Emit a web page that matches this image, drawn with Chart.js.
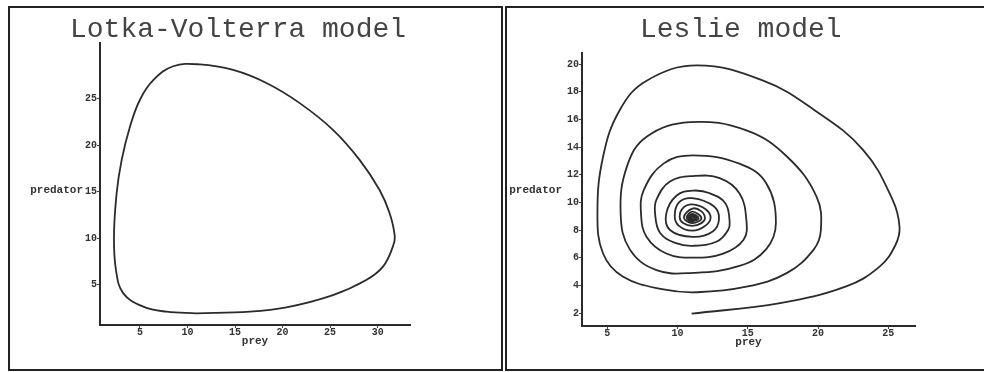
<!DOCTYPE html>
<html>
<head>
<meta charset="utf-8">
<title>Predator-prey phase portraits</title>
<script src="https://cdn.jsdelivr.net/npm/chart.js@4/dist/chart.umd.min.js"></script>
<style>
  body { margin: 0; background: #fff; }
  #wrap { position: relative; width: 984px; height: 372px; overflow: hidden; }
  .frame { position: absolute; border: 2px solid #222; box-sizing: border-box; }
  canvas { position: absolute; top: 0; }
</style>
</head>
<body>
<div id="wrap">
  <div class="frame" style="left:8px;top:6px;width:495px;height:365px"></div>
  <div class="frame" style="left:505px;top:6px;width:500px;height:365px"></div>
  <canvas id="lv" width="500" height="372" style="left:0"></canvas>
  <canvas id="leslie" width="484" height="372" style="left:500px"></canvas>
</div>
<script>
// --- DATA ---

// Lotka-Volterra closed orbit, traced counter-clockwise from the bottom
const lvPrey = [10.96, 16.55, 20.4, 25.3, 28.8, 30.56, 31.6, 31.8, 31.26, 30.2, 28.1, 25.3, 21.8, 18.3,
  14.8, 11.3, 8.5, 6.4, 5.0, 3.95, 3.08, 2.55, 2.27, 2.48, 3.25, 5.35, 7.8, 10.96];
const lvPredator = [1.95, 2.13, 2.6, 3.92, 5.54, 6.97, 9.12, 10.2, 12.7, 15.2, 18.44, 21.67, 24.54, 26.7,
  28.1, 28.7, 28.5, 27.0, 24.9, 22.0, 18.44, 14.86, 10.2, 6.6, 4.1, 2.67, 2.13, 1.95];
const lvPreyTicks = [5, 10, 15, 20, 25, 30];
const lvPredatorTicks = [5, 10, 15, 20, 25];

// Leslie model trajectory spiralling in to the equilibrium
const lesliePrey = [
  11.0, 17.3, 22.0, 24.4, 25.5, 25.8, 25.3, 23.2, 19.7, 16.1, 11.4, 7.8, 5.9, 4.7, 4.3, 4.7, 6.1, 9.0,
  11.4, 14.9, 17.8, 19.7, 20.2, 19.9, 17.8, 14.9, 10.9, 7.8, 6.4, 5.95, 6.6, 8.5,
  11.1, 14.4, 16.3, 17.0, 16.3, 14.4, 11.1, 9.0, 7.6, 7.4, 7.8, 9.2,
  11.1, 13.25, 14.7, 14.9, 14.4, 13.0, 11.1, 9.46, 8.5, 8.4, 8.75, 9.9,
  11.1, 12.8, 13.6, 13.7, 13.4, 12.3, 11.1, 9.94, 9.2, 9.46,
  11.1, 12.5, 12.95, 12.6, 11.05, 10.1, 9.8, 10.1,
  11.05, 11.9, 12.35, 12.0, 11.05, 10.4, 10.15, 10.4,
  11.05, 11.7, 11.95, 11.7, 11.05, 10.45,
  11.05, 11.7, 11.05, 10.65, 11.05, 11.5, 11.05, 10.78, 11.05, 11.35, 11.05, 10.87,
  11.05, 11.25, 11.05, 10.95, 11.05, 11.12
];
const lesliePredator = [
  1.95, 2.72, 3.92, 5.37, 6.9, 8.2, 10.2, 13.8, 16.7, 18.8, 19.9, 18.8, 16.7, 13.3, 9.2, 6.3, 4.64, 3.7,
  3.5, 3.9, 4.9, 6.6, 8.0, 10.4, 13.3, 15.2, 15.8, 14.75, 12.6, 9.2, 6.6, 5.1,
  4.9, 5.4, 6.6, 8.5, 11.4, 12.8, 13.4, 12.8, 10.9, 9.2, 7.5, 6.3,
  6.0, 6.3, 7.3, 8.7, 10.66, 11.75, 11.9, 11.5, 10.2, 9.2, 7.8, 7.05,
  6.86, 7.17, 8.0, 8.7, 9.94, 10.66, 10.85, 10.5, 9.2, 8.0,
  7.5, 7.9, 8.8, 9.7, 10.3, 10.0, 9.0, 8.3,
  7.95, 8.25, 8.85, 9.5, 9.85, 9.6, 8.95, 8.5,
  8.3, 8.5, 8.85, 9.35, 9.55, 8.9,
  8.5, 8.86, 9.33, 8.88, 8.63, 8.86, 9.17, 8.87, 8.72, 8.86, 9.05, 8.86,
  8.78, 8.86, 8.97, 8.86, 8.82, 8.86
];
const lesliePreyTicks = [5, 10, 15, 20, 25];
const lesliePredatorTicks = [2, 4, 6, 8, 10, 12, 14, 16, 18, 20];

// --- DRAWING ---

const INK = "#2b2b2b";
const tickFont = { family: "Liberation Mono", size: 10, weight: "bold" };

const panelText = {
  id: "panelText",
  afterDraw(chart, args, opts) {
    const ctx = chart.ctx;
    ctx.save();
    ctx.fillStyle = "#444";
    ctx.textBaseline = "alphabetic";
    ctx.textAlign = "left";
    ctx.font = '28px "Liberation Mono"';
    ctx.fillText(opts.title, opts.titleX, 37);
    ctx.fillStyle = "#333";
    ctx.font = 'bold 11px "Liberation Mono"';
    ctx.textAlign = "right";
    ctx.textBaseline = "middle";
    ctx.fillText("predator", opts.labelX, 190);
    ctx.restore();
  },
};

function axis(min, max, ticks, fit) {
  return {
    type: "linear",
    min: min,
    max: max,
    afterBuildTicks: (s) => { s.ticks = ticks.map((v) => ({ value: v })); },
    afterFit: fit,
    grid: { drawOnChartArea: false, drawTicks: true, tickLength: 3, tickColor: "#444" },
    border: { display: true, color: INK, width: 2 },
    ticks: { padding: 0, color: "#333", font: tickFont, maxRotation: 0, autoSkip: false },
  };
}

function phaseChart(id, xs, ys, o) {
  const points = xs.map((x, i) => ({ x: x, y: ys[i] }));
  const xAxis = axis(o.xMin, o.xMax, o.xTicks, (s) => { s.height = 23; });
  xAxis.ticks.padding = -2;
  xAxis.title = {
    display: true, text: "prey", color: "#333",
    font: { family: "Liberation Mono", size: 11, weight: "bold" },
    padding: { top: 0, bottom: 0 },
  };
  const yAxis = axis(o.yMin, o.yMax, o.yTicks, (s) => { s.width = o.yWidth; });

  return new Chart(document.getElementById(id), {
    type: "scatter",
    data: {
      datasets: [{
        data: points,
        showLine: true,
        tension: 0.4,
        borderColor: INK,
        borderWidth: 1.8,
        pointRadius: 0,
        fill: false,
      }],
    },
    options: {
      responsive: false,
      animation: false,
      events: [],
      layout: { padding: o.padding },
      scales: { x: xAxis, y: yAxis },
      plugins: {
        legend: { display: false },
        tooltip: { enabled: false },
        panelText: { title: o.title, titleX: o.titleX, labelX: o.labelX },
      },
    },
    plugins: [panelText],
  });
}

phaseChart("lv", lvPrey, lvPredator, {
  title: "Lotka-Volterra model", titleX: 70, labelX: 83,
  xMin: 0.8, xMax: 33.4, xTicks: lvPreyTicks,
  yMin: 0.7, yMax: 31, yTicks: lvPredatorTicks,
  yWidth: 100,
  padding: { left: 0, top: 43, right: 90, bottom: 24 },
});

phaseChart("leslie", lesliePrey, lesliePredator, {
  title: "Leslie model", titleX: 140, labelX: 62,
  xMin: 3.2, xMax: 26.9, xTicks: lesliePreyTicks,
  yMin: 1.06, yMax: 20.8, yTicks: lesliePredatorTicks,
  yWidth: 82,
  padding: { left: 0, top: 53, right: 69, bottom: 23 },
});
</script>
</body>
</html>
